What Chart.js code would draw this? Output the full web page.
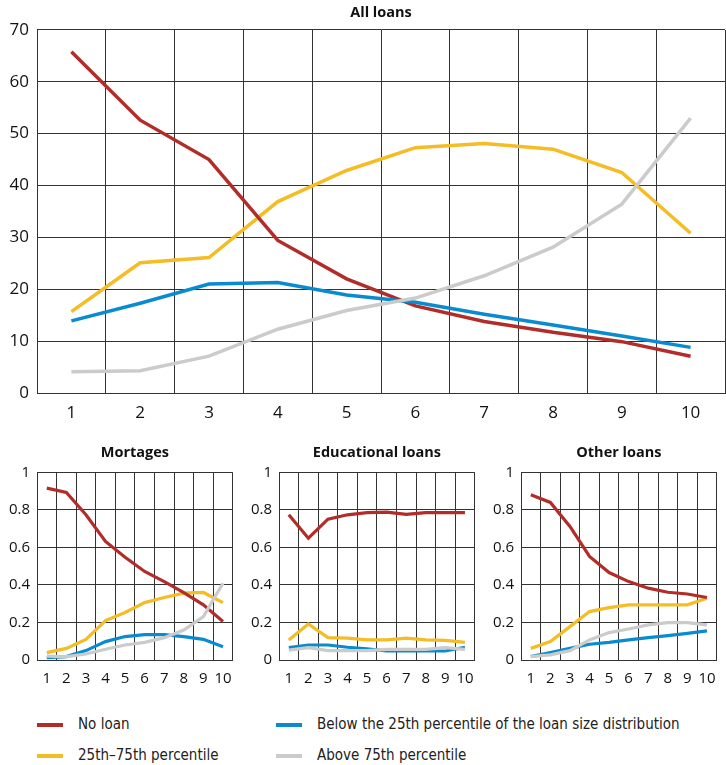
<!DOCTYPE html>
<html>
<head>
<meta charset="utf-8">
<script src="https://cdn.jsdelivr.net/npm/chart.js@4.4.1/dist/chart.umd.min.js"></script>
<style>
 body { margin:0; background:#fff; width:726px; height:765px; overflow:hidden; position:relative; }
 .box { position:absolute; }
 .leg { position:absolute; font-family:"DejaVu Sans Condensed","DejaVu Sans",sans-serif; font-size:15px; line-height:18px; color:#222; white-space:nowrap; height:18px; }
 .leg i { position:absolute; left:0; top:8px; width:26px; height:4px; }
 .leg span { position:absolute; left:41px; top:0; }
</style>
</head>
<body>
<div class="box" style="left:0;top:0;width:726px;height:423px"><canvas id="cAll"></canvas></div>
<div class="box" style="left:0;top:435px;width:242px;height:255px"><canvas id="cMort"></canvas></div>
<div class="box" style="left:242px;top:435px;width:242px;height:255px"><canvas id="cEdu"></canvas></div>
<div class="box" style="left:484px;top:435px;width:242px;height:255px"><canvas id="cOth"></canvas></div>

<div class="leg" style="left:37px;top:715px"><i style="background:#b22d2a"></i><span>No loan</span></div>
<div class="leg" style="left:276px;top:715px"><i style="background:#0b8bcf"></i><span>Below the 25th percentile of the loan size distribution</span></div>
<div class="leg" style="left:37px;top:746px"><i style="background:#f4bc25"></i><span>25th–75th percentile</span></div>
<div class="leg" style="left:276px;top:746px"><i style="background:#cbcbcb"></i><span>Above 75th percentile</span></div>

<script>
 var deciles = ['1','2','3','4','5','6','7','8','9','10'];

/* All loans (per cent) */
 var allNoLoan = [65.8, 52.6, 45.0, 29.4, 22.0, 16.8, 13.8, 11.7, 9.9, 7.1];
 var allMid    = [15.7, 25.1, 26.1, 36.9, 42.9, 47.3, 48.1, 47.0, 42.5, 30.8];
 var allBelow  = [13.9, 17.3, 21.0, 21.3, 18.9, 17.5, 15.2, 13.1, 11.0, 8.8];
 var allAbove  = [4.1, 4.3, 7.1, 12.3, 15.9, 18.3, 22.6, 28.1, 36.4, 53.0];

/* Mortgages */
 var mortNoLoan = [0.916, 0.893, 0.774, 0.632, 0.548, 0.472, 0.418, 0.359, 0.294, 0.205];
 var mortMid    = [0.039, 0.062, 0.110, 0.210, 0.253, 0.306, 0.333, 0.356, 0.360, 0.306];
 var mortBelow  = [0.012, 0.018, 0.050, 0.098, 0.125, 0.135, 0.135, 0.125, 0.110, 0.071];
 var mortAbove  = [0.021, 0.018, 0.032, 0.057, 0.080, 0.094, 0.119, 0.160, 0.231, 0.409];

/* Educational loans */
 var eduNoLoan = [0.774, 0.649, 0.751, 0.774, 0.786, 0.788, 0.776, 0.786, 0.786, 0.786];
 var eduMid    = [0.107, 0.192, 0.119, 0.117, 0.107, 0.107, 0.117, 0.107, 0.105, 0.094];
 var eduBelow  = [0.066, 0.080, 0.080, 0.068, 0.059, 0.048, 0.048, 0.048, 0.048, 0.068];
 var eduAbove  = [0.053, 0.066, 0.050, 0.050, 0.050, 0.057, 0.057, 0.057, 0.066, 0.057];

/* Other loans */
 var othNoLoan = [0.881, 0.840, 0.712, 0.552, 0.466, 0.418, 0.383, 0.361, 0.352, 0.333];
 var othMid    = [0.062, 0.098, 0.178, 0.258, 0.279, 0.294, 0.294, 0.294, 0.294, 0.329];
 var othBelow  = [0.018, 0.039, 0.062, 0.084, 0.094, 0.107, 0.119, 0.130, 0.142, 0.155];
 var othAbove  = [0.018, 0.027, 0.050, 0.107, 0.146, 0.165, 0.187, 0.199, 0.199, 0.187];

 var colRed = "#b22d2a", colYellow = "#f4bc25", colBlue = "#0b8bcf", colGray = "#cbcbcb";
 var gridCol = "#333333";

 function serie ( label, values, color, order, width )
  { return( { label: label, data: values, borderColor: color, backgroundColor: color,
              borderWidth: width, pointRadius: 0, tension: 0, order: order } );
  }

/********************************* Build one panel ******************************************************/
 function Draw_panel ( id, titre, series, ymax, ystep, opt )
  { var tickFont = { family: "'Open Sans', sans-serif", size: opt.tickSize };
    new Chart( document.getElementById(id),
     { type: 'line',
       data: { labels: deciles,
               datasets: [ serie("No loan", series[0], colRed, 2, opt.lw),
                           serie("25th–75th percentile", series[1], colYellow, 3, opt.lw),
                           serie("Below the 25th percentile of the loan size distribution", series[2], colBlue, 1, opt.lw),
                           serie("Above 75th percentile", series[3], colGray, 0, opt.lw) ]
             },
       options: { responsive: true, maintainAspectRatio: false, animation: false,
                  layout: { padding: { left: 0, right: 1, top: 0, bottom: 0 } },
                  plugins: { legend: { display: false }, tooltip: { enabled: false },
                             title: { display: true, text: titre, color: "#111", fullSize: false,
                                      font: { family: "'Open Sans', sans-serif", size: 14.5, weight: 'bold' },
                                      padding: { top: opt.titleTop, bottom: opt.titleBottom } }
                           },
                  scales: { x: { offset: true,
                                 grid: { offset: true, color: gridCol, lineWidth: 1, drawTicks: false },
                                 border: { color: gridCol, width: 1 },
                                 ticks: { color: "#111", font: tickFont, padding: opt.xPad, maxRotation: 0, autoSkip: false },
                                 afterFit: function (scale) { scale.height = 30; }
                               },
                            y: { min: 0, max: ymax,
                                 grid: { color: gridCol, lineWidth: 1, drawTicks: false },
                                 border: { color: gridCol, width: 1 },
                                 ticks: { stepSize: ystep, color: "#111", font: tickFont, padding: opt.yPad,
                                          callback: function (v) { return( String(Math.round(v*10)/10) ); } },
                                 afterFit: function (scale) { scale.width = opt.yWidth; }
                               }
                          }
                }
     });
  }

 Draw_panel ( "cAll", "All loans", [allNoLoan, allMid, allBelow, allAbove], 70, 10,
              { titleTop: 4, titleBottom: 8.5, xPad: 10, yPad: 8, yWidth: 37, tickSize: 17, lw: 3.5 } );
 Draw_panel ( "cMort", "Mortages", [mortNoLoan, mortMid, mortBelow, mortAbove], 1, 0.2,
              { titleTop: 9, titleBottom: 11, xPad: 10, yPad: 7, yWidth: 37, tickSize: 15, lw: 3.2 } );
 Draw_panel ( "cEdu", "Educational loans", [eduNoLoan, eduMid, eduBelow, eduAbove], 1, 0.2,
              { titleTop: 9, titleBottom: 11, xPad: 10, yPad: 7, yWidth: 37, tickSize: 15, lw: 3.2 } );
 Draw_panel ( "cOth", "Other loans", [othNoLoan, othMid, othBelow, othAbove], 1, 0.2,
              { titleTop: 9, titleBottom: 11, xPad: 10, yPad: 7, yWidth: 37, tickSize: 15, lw: 3.2 } );
</script>
</body>
</html>
